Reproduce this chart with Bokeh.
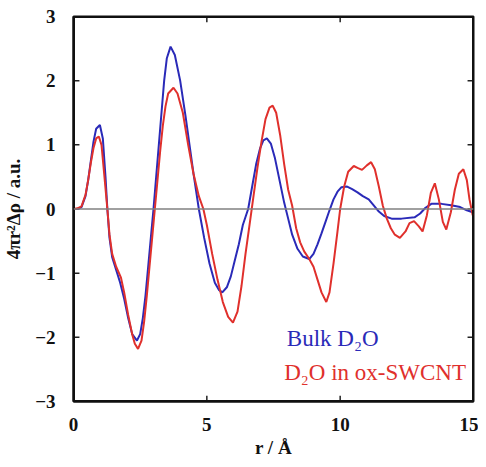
from bokeh.plotting import figure
from bokeh.models import Span, Label, FixedTicker, Range1d, BoxAnnotation, ColumnDataSource
from bokeh.layouts import gridplot
from bokeh.embed import file_html
from bokeh.resources import INLINE

# Bulk D2O
bulk_r = [0.0, 0.15, 0.3, 0.45, 0.55, 0.65, 0.75, 0.85, 0.99, 1.1, 1.2, 1.27, 1.35, 1.45, 1.6, 1.75,
          1.9, 2.05, 2.2, 2.38, 2.5, 2.6, 2.7, 2.8, 2.9, 3.0, 3.1, 3.2, 3.3, 3.4, 3.5, 3.64,
          3.8, 4.0, 4.2, 4.35, 4.5, 4.7, 4.9, 5.1, 5.3, 5.45, 5.58, 5.75, 5.9, 6.05, 6.2, 6.35,
          6.55, 6.7, 6.85, 7.0, 7.12, 7.25, 7.4, 7.55, 7.7, 7.9, 8.05, 8.2, 8.4, 8.6, 8.84,
          9.0, 9.15, 9.3, 9.45, 9.6, 9.75, 9.9, 10.05, 10.26, 10.45, 10.65, 10.85, 11.07,
          11.25, 11.45, 11.65, 11.93, 12.3, 12.79, 13.0, 13.2, 13.42, 13.8, 14.16, 14.5, 14.75, 14.97]
bulk_g = [0.0, 0.0, 0.03, 0.2, 0.45, 0.75, 1.05, 1.25, 1.31, 1.1, 0.5, 0.0, -0.45, -0.75, -0.95, -1.15,
          -1.4, -1.7, -1.95, -2.05, -1.95, -1.7, -1.35, -0.9, -0.45, 0.0, 0.5, 1.0, 1.5, 2.0, 2.35, 2.53,
          2.4, 2.0, 1.45, 1.0, 0.55, 0.0, -0.45, -0.85, -1.15, -1.26, -1.30, -1.22, -1.05, -0.8, -0.55, -0.25,
          0.0, 0.35, 0.7, 0.95, 1.07, 1.10, 1.02, 0.8, 0.5, 0.1, -0.15, -0.4, -0.62, -0.74, -0.78,
          -0.7, -0.55, -0.38, -0.2, -0.02, 0.15, 0.27, 0.34, 0.35, 0.31, 0.26, 0.2, 0.15,
          0.06, -0.04, -0.11, -0.15, -0.15, -0.13, -0.07, 0.02, 0.08, 0.08, 0.06, 0.03, -0.02, -0.05]

# D2O in ox-SWCNT
cnt_r = [0.0, 0.15, 0.3, 0.45, 0.55, 0.65, 0.75, 0.85, 0.95, 1.05, 1.15, 1.27, 1.35, 1.45, 1.6, 1.78,
         1.9, 2.05, 2.2, 2.3, 2.42, 2.55, 2.65, 2.75, 2.85, 2.95, 3.05, 3.15, 3.25, 3.35, 3.45, 3.55,
         3.75, 3.9, 4.1, 4.3, 4.5, 4.7, 4.87, 5.0, 5.2, 5.4, 5.6, 5.8, 5.98, 6.15, 6.3, 6.45,
         6.6, 6.75, 6.9, 7.05, 7.2, 7.35, 7.47, 7.6, 7.75, 7.9, 8.05, 8.2, 8.35, 8.5, 8.65,
         8.84, 9.0, 9.15, 9.3, 9.48, 9.6, 9.75, 9.9, 10.0, 10.15, 10.3, 10.51, 10.65, 10.82,
         11.0, 11.16, 11.3, 11.45, 11.6, 11.75, 11.9, 12.05, 12.24, 12.45, 12.6, 12.77, 12.95,
         13.09, 13.25, 13.4, 13.55, 13.7, 13.85, 13.98, 14.15, 14.3, 14.45, 14.62, 14.75, 14.85, 14.97]
cnt_g = [0.0, 0.01, 0.04, 0.22, 0.45, 0.72, 0.95, 1.1, 1.13, 1.0, 0.55, 0.0, -0.4, -0.7, -0.9, -1.07,
         -1.3, -1.65, -1.95, -2.1, -2.18, -2.05, -1.75, -1.35, -0.9, -0.45, 0.0, 0.45, 0.9, 1.3, 1.6, 1.8,
         1.89, 1.8, 1.5, 1.0, 0.55, 0.2, 0.0, -0.25, -0.7, -1.1, -1.45, -1.68, -1.77, -1.6, -1.2, -0.7,
         -0.25, 0.2, 0.65, 1.05, 1.4, 1.58, 1.61, 1.5, 1.15, 0.7, 0.3, 0.05, -0.3, -0.52, -0.66,
         -0.78, -0.9, -1.1, -1.3, -1.45, -1.3, -0.85, -0.35, 0.0, 0.35, 0.58, 0.67, 0.64, 0.61,
         0.68, 0.73, 0.62, 0.35, 0.05, -0.15, -0.3, -0.4, -0.45, -0.35, -0.22, -0.19, -0.27,
         -0.35, -0.1, 0.25, 0.40, 0.15, -0.2, -0.32, -0.05, 0.3, 0.55, 0.62, 0.45, 0.15, -0.1]

x_ticks = [0, 5, 10, 15]
y_ticks = [-3, -2, -1, 0, 1, 2, 3]

x_lo, x_hi = 0, 15
y_lo, y_hi = -3, 3
frame_w, frame_h = 404, 396
tick_px = 6

p = figure(width=478, height=460, output_backend="svg", toolbar_location=None,
           x_range=Range1d(x_lo, x_hi), y_range=Range1d(y_lo, y_hi),
           min_border_left=69, min_border_right=5, min_border_top=16, min_border_bottom=48)
p.xgrid.grid_line_color = None
p.ygrid.grid_line_color = None
p.outline_line_color = "#111111"
p.outline_line_width = 2

font = "Liberation Serif"
for ax in [p.xaxis[0], p.yaxis[0]]:
    ax.axis_line_color = "#111111"
    ax.axis_line_width = 2
    ax.major_tick_line_color = None
    ax.minor_tick_line_color = None
    ax.major_label_text_font = font
    ax.major_label_text_font_style = "bold"
    ax.major_label_text_font_size = "19px"
    ax.major_label_text_color = "#111111"
    ax.axis_label_text_font = font
    ax.axis_label_text_font_style = "bold"
    ax.axis_label_text_font_size = "19px"
    ax.axis_label_text_color = "#111111"

p.xaxis[0].ticker = FixedTicker(ticks=x_ticks)
p.yaxis[0].ticker = FixedTicker(ticks=y_ticks)
p.xaxis[0].axis_label = "r / Å"
p.yaxis[0].axis_label = "4πr²Δρ / a.u."
p.xaxis[0].major_label_standoff = 10
p.yaxis[0].major_label_standoff = 12
p.xaxis[0].axis_label_standoff = 3
p.yaxis[0].axis_label_standoff = 8

# frame box
p.add_layout(BoxAnnotation(left=x_lo, right=x_hi, bottom=y_lo, top=y_hi, fill_alpha=0,
                           line_color="#111111", line_alpha=1, line_width=3))

# inward ticks on all four sides, derived from the tick lists
dy = tick_px * (y_hi - y_lo) / frame_h
dx = tick_px * (x_hi - x_lo) / frame_w
xt = [t for t in x_ticks if x_lo < t < x_hi]
yt = [t for t in y_ticks if y_lo < t < y_hi]
ticks = ColumnDataSource(dict(
    x0=xt + xt + [x_lo] * len(yt) + [x_hi] * len(yt),
    y0=[y_lo] * len(xt) + [y_hi] * len(xt) + yt + yt,
    x1=xt + xt + [x_lo + dx] * len(yt) + [x_hi - dx] * len(yt),
    y1=[y_lo + dy] * len(xt) + [y_hi - dy] * len(xt) + yt + yt,
))
p.segment(x0="x0", y0="y0", x1="x1", y1="y1", source=ticks, line_color="#222222", line_width=1.5)

p.add_layout(Span(location=0, dimension="width", line_color="#808080", line_width=1.5))

p.line(bulk_r, bulk_g, line_color="#2a2ab8", line_width=2)
p.line(cnt_r, cnt_g, line_color="#e0302c", line_width=2)

p.add_layout(Label(x=8.0, y=-2.22, text="Bulk D₂O", text_color="#2a2ab8",
                   text_font=font, text_font_size="23px"))
p.add_layout(Label(x=7.9, y=-2.74, text="D₂O in ox-SWCNT", text_color="#e0302c",
                   text_font=font, text_font_size="23px"))

g = gridplot([[p]], toolbar_location=None)
open("out.html", "w").write(file_html(g, INLINE))
